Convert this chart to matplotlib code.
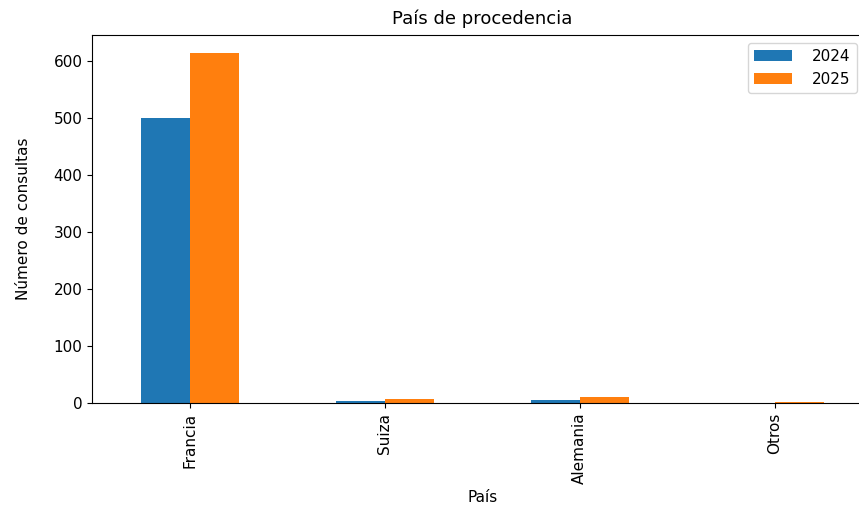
import matplotlib
matplotlib.use("Agg")
import matplotlib.pyplot as plt
import pandas as pd

paises = ["Francia", "Suiza", "Alemania", "Otros"]
consultas_2024 = [501, 4, 6, 0]
consultas_2025 = [615, 8, 10, 2]

df = pd.DataFrame({"2024": consultas_2024, "2025": consultas_2025}, index=paises)

fig = plt.figure(figsize=(8.59, 5.09), dpi=100)
# the original picture is cropped on the right, so the axes run past the edge
ax = fig.add_axes([0.1075, 0.208, 0.908, 0.723])
df.plot(kind="bar", ax=ax)

ax.set_title("País de procedencia", fontsize=13, pad=8)
ax.set_xlabel("País", fontsize=11)
ax.set_ylabel("Número de consultas", fontsize=11, labelpad=16)
ax.tick_params(axis="both", labelsize=11)
ax.legend(fontsize=11, loc="upper right", bbox_to_anchor=(0.99, 1.0),
          handlelength=2.5, handletextpad=1.3)

fig.savefig("out.png", dpi=100)
